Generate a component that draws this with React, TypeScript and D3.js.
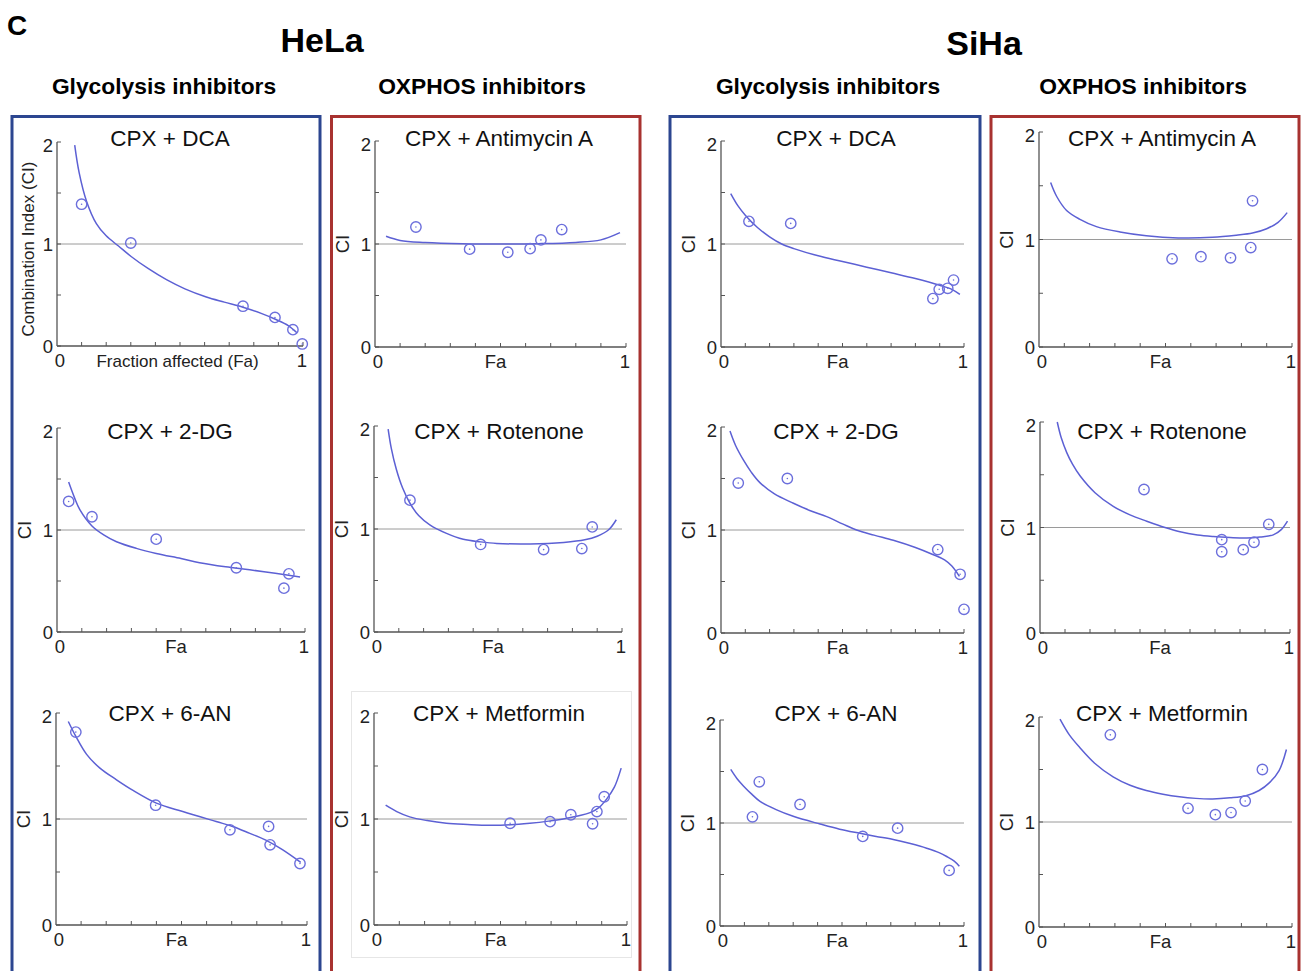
import React, { useEffect, useRef } from "react";
import * as d3 from "d3";

// ---------- data: [Fa, CI] ----------
const helaDcaPoints = [[0.10, 1.39], [0.30, 1.01], [0.756, 0.39], [0.886, 0.28], [0.959, 0.16], [0.997, 0.02]];
const helaDcaFit = [[0.072, 1.97], [0.09, 1.7], [0.12, 1.42], [0.16, 1.2], [0.2, 1.08], [0.25, 0.98], [0.3, 0.88], [0.37, 0.76], [0.445, 0.65], [0.52, 0.56], [0.607, 0.48], [0.68, 0.43], [0.756, 0.38], [0.83, 0.32], [0.89, 0.26], [0.94, 0.2], [0.975, 0.13]];

const helaAntiPoints = [[0.163, 1.165], [0.377, 0.95], [0.529, 0.92], [0.618, 0.955], [0.661, 1.04], [0.744, 1.14]];
const helaAntiFit = [[0.044, 1.075], [0.1, 1.035], [0.2, 1.015], [0.35, 1.003], [0.5, 1.0], [0.65, 1.003], [0.8, 1.015], [0.9, 1.04], [0.976, 1.11]];

const sihaDcaPoints = [[0.115, 1.22], [0.287, 1.20], [0.872, 0.47], [0.898, 0.56], [0.933, 0.57], [0.957, 0.65]];
const sihaDcaFit = [[0.04, 1.49], [0.07, 1.37], [0.1, 1.28], [0.15, 1.16], [0.2, 1.07], [0.25, 1.0], [0.3, 0.955], [0.4, 0.885], [0.5, 0.83], [0.6, 0.775], [0.7, 0.72], [0.8, 0.665], [0.9, 0.6], [0.95, 0.56], [0.983, 0.51]];

const sihaAntiPoints = [[0.844, 1.36], [0.526, 0.82], [0.64, 0.84], [0.757, 0.83], [0.837, 0.925]];
const sihaAntiFit = [[0.046, 1.53], [0.07, 1.4], [0.109, 1.27], [0.16, 1.19], [0.227, 1.12], [0.32, 1.07], [0.424, 1.035], [0.55, 1.015], [0.686, 1.02], [0.78, 1.04], [0.844, 1.06], [0.9, 1.1], [0.945, 1.16], [0.981, 1.25]];

const hela2dgPoints = [[0.047, 1.28], [0.141, 1.13], [0.40, 0.91], [0.723, 0.63], [0.935, 0.57], [0.915, 0.43]];
const hela2dgFit = [[0.047, 1.47], [0.07, 1.32], [0.092, 1.2], [0.141, 1.04], [0.19, 0.95], [0.24, 0.885], [0.32, 0.82], [0.4, 0.77], [0.5, 0.72], [0.575, 0.68], [0.68, 0.64], [0.777, 0.61], [0.88, 0.575], [0.98, 0.54]];

const helaRotPoints = [[0.145, 1.28], [0.43, 0.85], [0.684, 0.80], [0.838, 0.81], [0.88, 1.02]];
const helaRotFit = [[0.057, 1.97], [0.07, 1.78], [0.09, 1.58], [0.115, 1.4], [0.145, 1.25], [0.18, 1.13], [0.225, 1.04], [0.29, 0.96], [0.36, 0.9], [0.43, 0.875], [0.495, 0.86], [0.63, 0.855], [0.765, 0.87], [0.85, 0.895], [0.9, 0.93], [0.945, 0.99], [0.977, 1.09]];

const siha2dgPoints = [[0.071, 1.456], [0.273, 1.50], [0.892, 0.81], [0.984, 0.57], [1.0, 0.23]];
const siha2dgFit = [[0.037, 1.96], [0.06, 1.82], [0.092, 1.68], [0.125, 1.56], [0.16, 1.46], [0.22, 1.35], [0.298, 1.26], [0.365, 1.19], [0.435, 1.13], [0.5, 1.06], [0.558, 1.0], [0.63, 0.95], [0.709, 0.9], [0.8, 0.83], [0.874, 0.76], [0.92, 0.71], [0.95, 0.65], [0.981, 0.55]];

const sihaRotPoints = [[0.416, 1.36], [0.727, 0.885], [0.727, 0.77], [0.813, 0.79], [0.856, 0.86], [0.915, 1.03]];
const sihaRotFit = [[0.069, 2.0], [0.085, 1.85], [0.107, 1.71], [0.13, 1.6], [0.16, 1.49], [0.22, 1.33], [0.293, 1.2], [0.36, 1.12], [0.427, 1.06], [0.5, 1.0], [0.56, 0.96], [0.63, 0.93], [0.693, 0.915], [0.76, 0.905], [0.827, 0.9], [0.88, 0.91], [0.933, 0.93], [0.965, 0.98], [0.99, 1.06]];

const hela6anPoints = [[0.079, 1.82], [0.397, 1.13], [0.693, 0.898], [0.847, 0.93], [0.853, 0.756], [0.972, 0.58]];
const hela6anFit = [[0.049, 1.92], [0.079, 1.78], [0.122, 1.61], [0.175, 1.48], [0.241, 1.37], [0.307, 1.27], [0.4, 1.15], [0.505, 1.07], [0.638, 0.976], [0.704, 0.93], [0.77, 0.867], [0.836, 0.8], [0.902, 0.71], [0.975, 0.59]];

const helaMetPoints = [[0.538, 0.96], [0.696, 0.975], [0.778, 1.04], [0.864, 0.955], [0.881, 1.07], [0.91, 1.21]];
const helaMetFit = [[0.046, 1.13], [0.09, 1.07], [0.141, 1.02], [0.21, 0.985], [0.286, 0.96], [0.37, 0.948], [0.457, 0.94], [0.54, 0.945], [0.616, 0.96], [0.69, 0.98], [0.748, 1.0], [0.81, 1.03], [0.854, 1.06], [0.89, 1.11], [0.92, 1.19], [0.95, 1.3], [0.977, 1.48]];

const siha6anPoints = [[0.161, 1.40], [0.133, 1.06], [0.328, 1.18], [0.585, 0.87], [0.728, 0.95], [0.939, 0.54]];
const siha6anFit = [[0.044, 1.52], [0.07, 1.43], [0.096, 1.36], [0.13, 1.28], [0.164, 1.21], [0.23, 1.13], [0.3, 1.065], [0.41, 0.99], [0.49, 0.94], [0.574, 0.9], [0.64, 0.87], [0.71, 0.84], [0.78, 0.8], [0.847, 0.755], [0.9, 0.71], [0.929, 0.675], [0.96, 0.63], [0.981, 0.58]];

const sihaMetPoints = [[0.282, 1.83], [0.589, 1.13], [0.697, 1.07], [0.759, 1.09], [0.815, 1.20], [0.883, 1.50]];
const sihaMetFit = [[0.083, 1.98], [0.12, 1.83], [0.161, 1.71], [0.22, 1.56], [0.293, 1.43], [0.36, 1.35], [0.424, 1.3], [0.49, 1.265], [0.555, 1.24], [0.62, 1.225], [0.686, 1.22], [0.755, 1.23], [0.818, 1.25], [0.87, 1.3], [0.909, 1.37], [0.949, 1.49], [0.978, 1.69]];

const panelTitles = [
  "CPX + DCA", "CPX + Antimycin A", "CPX + DCA", "CPX + Antimycin A",
  "CPX + 2-DG", "CPX + Rotenone", "CPX + 2-DG", "CPX + Rotenone",
  "CPX + 6-AN", "CPX + Metformin", "CPX + 6-AN", "CPX + Metformin",
];
const panelPoints = [
  helaDcaPoints, helaAntiPoints, sihaDcaPoints, sihaAntiPoints,
  hela2dgPoints, helaRotPoints, siha2dgPoints, sihaRotPoints,
  hela6anPoints, helaMetPoints, siha6anPoints, sihaMetPoints,
];
const panelFits = [
  helaDcaFit, helaAntiFit, sihaDcaFit, sihaAntiFit,
  hela2dgFit, helaRotFit, siha2dgFit, sihaRotFit,
  hela6anFit, helaMetFit, siha6anFit, sihaMetFit,
];

const cellLines = ["HeLa", "SiHa"];
const groupNames = ["Glycolysis inhibitors", "OXPHOS inhibitors", "Glycolysis inhibitors", "OXPHOS inhibitors"];
const xTickMarks = [0.1, 0.2, 0.3, 0.4, 0.5, 0.6, 0.7, 0.8, 0.9, 1];
const yTickMarks = [0, 0.5, 1, 1.5, 2];
const xTickLabels = [0, 1];
const yTickLabels = [0, 1, 2];

// ---------- layout ----------
const W = 1301;
const H = 971;
const FONT = "'Liberation Sans', Arial, sans-serif";
const BLUE = "#2c4690";
const RED = "#a83230";
const CURVE = "#5c60d4";
const DOT = "#6c6fdc";

const frames = [
  { x0: 57, x1: 303, yTop: 142, yBot: 346 },
  { x0: 375, x1: 626, yTop: 141, yBot: 347 },
  { x0: 721, x1: 964, yTop: 141, yBot: 347 },
  { x0: 1039, x1: 1292, yTop: 132, yBot: 347 },
  { x0: 57, x1: 305, yTop: 428, yBot: 632 },
  { x0: 374, x1: 622, yTop: 426, yBot: 632 },
  { x0: 721, x1: 964, yTop: 427, yBot: 633 },
  { x0: 1040, x1: 1290, yTop: 422, yBot: 633 },
  { x0: 56, x1: 307, yTop: 713, yBot: 925 },
  { x0: 374, x1: 627, yTop: 713, yBot: 925 },
  { x0: 720, x1: 964, yTop: 720, yBot: 926 },
  { x0: 1039, x1: 1292, yTop: 717, yBot: 927 },
];
const titleX = [170, 499, 836, 1162];
const titleY = [146, 439, 721];
const boxes = [
  { l: 12, r: 320, c: BLUE },
  { l: 331.5, r: 640, c: RED },
  { l: 670, r: 980, c: BLUE },
  { l: 991, r: 1299, c: RED },
];

export default function App() {
  const svgRef = useRef(null);

  useEffect(() => {
    const svg = d3.select(svgRef.current);
    svg.selectAll("*").remove();

    // headings
    svg.append("text").attr("x", 7).attr("y", 35).attr("font-size", 28).attr("font-weight", "bold").attr("font-family", FONT).text("C");
    [322, 984].forEach((cx, i) => {
      svg.append("text").attr("x", cx).attr("y", i === 0 ? 52 : 55).attr("text-anchor", "middle")
        .attr("font-size", 34).attr("font-weight", "bold").attr("font-family", FONT).text(cellLines[i]);
    });
    [164, 482, 828, 1143].forEach((cx, i) => {
      svg.append("text").attr("x", cx).attr("y", 94).attr("text-anchor", "middle")
        .attr("font-size", 22.8).attr("font-weight", "bold").attr("font-family", FONT).text(groupNames[i]);
    });

    // group boxes
    boxes.forEach(b => {
      svg.append("rect").attr("x", b.l).attr("y", 116.5).attr("width", b.r - b.l).attr("height", H)
        .attr("fill", "none").attr("stroke", b.c).attr("stroke-width", 3);
    });

    // faint frame around pasted metformin panel
    svg.append("rect").attr("x", 351.5).attr("y", 691.5).attr("width", 280).attr("height", 266)
      .attr("fill", "none").attr("stroke", "#e6e6e6").attr("stroke-width", 1);

    frames.forEach((f, i) => {
      const row = Math.floor(i / 4);
      const col = i % 4;
      const g = svg.append("g");
      const x = d3.scaleLinear().domain([0, 1]).range([f.x0, f.x1]);
      const y = d3.scaleLinear().domain([0, 2]).range([f.yBot, f.yTop]);

      // CI = 1 reference
      g.append("line").attr("x1", x(0)).attr("x2", x(1)).attr("y1", y(1)).attr("y2", y(1))
        .attr("stroke", "#9a9a9a").attr("stroke-width", 1);

      // axes
      g.append("line").attr("x1", x(0)).attr("x2", x(0)).attr("y1", y(0)).attr("y2", y(2))
        .attr("stroke", "#555").attr("stroke-width", 1.3);
      g.append("line").attr("x1", x(0)).attr("x2", x(1)).attr("y1", y(0)).attr("y2", y(0))
        .attr("stroke", "#555").attr("stroke-width", 1.3);
      xTickMarks.forEach(t => {
        g.append("line").attr("x1", x(t)).attr("x2", x(t)).attr("y1", y(0)).attr("y2", y(0) - 4)
          .attr("stroke", "#555").attr("stroke-width", 1);
      });
      yTickMarks.forEach(t => {
        g.append("line").attr("x1", x(0)).attr("x2", x(0) + 4).attr("y1", y(t)).attr("y2", y(t))
          .attr("stroke", "#555").attr("stroke-width", 1);
      });

      // tick labels
      yTickLabels.forEach(t => {
        g.append("text").attr("x", x(0) - 4).attr("y", y(t) + (t === 2 ? 10 : 7)).attr("text-anchor", "end")
          .attr("font-size", 18.5).attr("font-family", FONT).attr("fill", "#222").text(t);
      });
      xTickLabels.forEach(t => {
        g.append("text").attr("x", x(t) + (t === 0 ? 3 : -1)).attr("y", y(0) + 21).attr("text-anchor", "middle")
          .attr("font-size", 18.5).attr("font-family", FONT).attr("fill", "#222").text(t);
      });

      // axis titles
      if (i === 0) {
        g.append("text").attr("x", x(0.49)).attr("y", y(0) + 21).attr("text-anchor", "middle")
          .attr("font-size", 17).attr("font-family", FONT).attr("fill", "#222").text("Fraction affected (Fa)");
        g.append("text").attr("transform", `translate(${x(0) - 23},${y(0.95)}) rotate(-90)`)
          .attr("text-anchor", "middle").attr("font-size", 17).attr("font-family", FONT).attr("fill", "#222")
          .text("Combination Index (CI)");
      } else {
        g.append("text").attr("x", x(0.48)).attr("y", y(0) + 21).attr("text-anchor", "middle")
          .attr("font-size", 18.5).attr("font-family", FONT).attr("fill", "#222").text("Fa");
        g.append("text").attr("transform", `translate(${x(0) - 26},${y(1)}) rotate(-90)`)
          .attr("text-anchor", "middle").attr("font-size", 18.5).attr("font-family", FONT).attr("fill", "#222")
          .text("CI");
      }

      // title
      g.append("text").attr("x", titleX[col]).attr("y", titleY[row]).attr("text-anchor", "middle")
        .attr("font-size", 22.5).attr("font-family", FONT).attr("fill", "#111").text(panelTitles[i]);

      // fitted curve
      const line = d3.line()
        .x(d => x(d[0]))
        .y(d => y(d[1]))
        .curve(d3.curveCatmullRom.alpha(0.5));
      g.append("path").datum(panelFits[i]).attr("fill", "none").attr("stroke", CURVE)
        .attr("stroke-width", 1.5).attr("d", line);

      // data points
      panelPoints[i].forEach(p => {
        g.append("circle").attr("cx", x(p[0])).attr("cy", y(p[1])).attr("r", 5.2)
          .attr("fill", "none").attr("stroke", DOT).attr("stroke-width", 1.4);
        g.append("circle").attr("cx", x(p[0])).attr("cy", y(p[1])).attr("r", 0.8).attr("fill", DOT);
      });
    });
  }, []);

  return (
    <svg ref={svgRef} width={W} height={H}
      style={{ position: "absolute", left: 0, top: 0, display: "block", background: "#fff" }} />
  );
}
